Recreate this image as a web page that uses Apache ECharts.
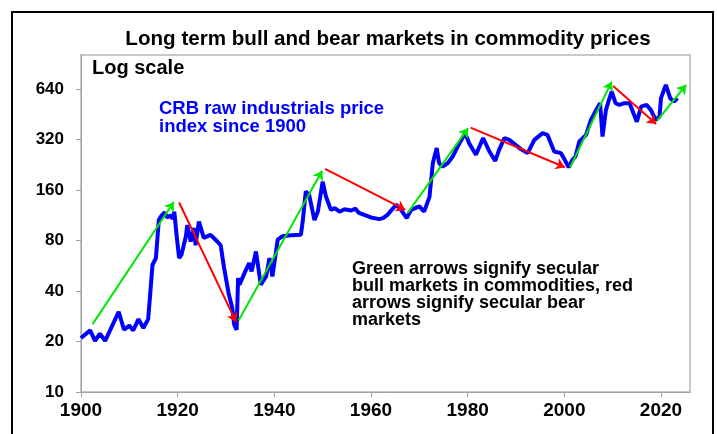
<!DOCTYPE html>
<html>
<head>
<meta charset="utf-8">
<script src="https://cdn.jsdelivr.net/npm/echarts@6/dist/echarts.min.js"></script>
<style>
  html, body { margin: 0; padding: 0; background: #fff; }
  #chart { width: 717px; height: 434px; }
</style>
</head>
<body>
<div id="chart"></div>
<script>
// CRB raw industrials index (year, index level)
const crbYears = [
  1900, 1901.9, 1902.9, 1903.9, 1905.0, 1907.8, 1908.9, 1910.0, 1910.8, 1911.9,
  1912.9, 1913.9, 1914.8, 1915.5, 1916.1, 1916.6, 1917.3, 1917.8, 1918.5, 1919.0,
  1919.3, 1919.8, 1920.3, 1920.8, 1921.7, 1922.0, 1922.7, 1923.4, 1923.7, 1924.4,
  1925.4, 1926.8, 1928.2, 1928.9, 1929.6, 1930.6, 1931.3, 1931.7, 1932.2, 1932.5,
  1932.8, 1933.8, 1934.8, 1935.3, 1936.2, 1937.2, 1938.3, 1939.0, 1939.6, 1940.7,
  1941.7, 1943.5, 1945.5, 1945.9, 1946.5, 1947.2, 1947.7, 1948.3, 1949.0, 1950.0,
  1950.7, 1951.7, 1952.5, 1953.5, 1954.5, 1955.9, 1956.8, 1957.5, 1958.6, 1960.0,
  1961.7, 1962.5, 1963.4, 1965.2, 1966.2, 1967.4,
  1968.3, 1970.0, 1971.0, 1972.1, 1972.8, 1973.6, 1974.1, 1974.8, 1975.9, 1976.9,
  1978.3, 1979.5, 1980.3, 1981.7, 1983.2, 1984.5, 1985.7, 1986.5, 1987.6, 1988.6,
  1989.9, 1991.0, 1992.4, 1993.8, 1995.5, 1996.5, 1997.9, 1999.3, 1999.9, 2000.9,
  2001.7, 2002.3, 2003.1, 2004.5, 2005.5, 2006.6, 2007.4, 2007.9, 2008.6, 2009.3,
  2009.8, 2010.6, 2011.4, 2012.4, 2013.5, 2014.3, 2015.0, 2015.9, 2017.0, 2017.9,
  2018.9, 2019.7, 2020.0, 2021.0, 2021.9, 2022.7, 2023.4
];
const crbValues = [
  21.0, 23.3, 20.2, 22.3, 20.2, 30.1, 23.5, 24.9, 23.3, 27.2,
  24.1, 27.2, 57.4, 62.9, 106, 112, 118, 110, 113, 108,
  119, 85, 63, 66, 85, 99, 79, 95, 75, 104,
  83, 86.6, 79, 75, 55, 38, 31.7, 25.2, 23.5, 47.8,
  43.6, 51, 58.7, 52.4, 68.9, 43.6, 48.9, 62.9, 48.9, 81,
  85, 86, 86.6, 106, 157, 150, 128, 106, 119, 180,
  146, 122, 125, 119, 123, 121, 124, 117, 114, 110,
  107.5, 109, 114, 131, 122, 109,
  122, 128, 119, 146, 232, 285, 232, 221, 232, 254,
  305, 350, 305, 260, 327, 272, 239, 278, 327, 319,
  298, 281, 266, 319, 350, 342, 272, 266, 248, 219,
  243, 254, 312, 342, 420, 482, 528, 334, 480, 560,
  619, 528, 516, 528, 528, 460, 410, 504, 516, 482,
  420, 440, 566, 679, 566, 540, 566
];

// arrows: [startYear, startValue, endYear, endValue]
const bullArrows = [
  [1902.4, 25.4, 1919.2, 136],
  [1932.6, 26.7, 1949.9, 209],
  [1967.6, 117, 1980.1, 375],
  [2001.2, 219, 2009.8, 710],
  [2019.2, 416, 2025.2, 679]
];
const bearArrows = [
  [1920.3, 135, 1932.1, 26.1],
  [1950.5, 214, 1967.1, 122],
  [1980.6, 378, 2000.1, 219],
  [2010.1, 670, 2019.0, 397]
];

const xTicks = [1900, 1920, 1940, 1960, 1980, 2000, 2020];
const yTicks = [10, 20, 40, 80, 160, 320, 640];

const fontFamily = '"Liberation Sans", Arial, sans-serif';
const chart = echarts.init(document.getElementById('chart'), null, { renderer: 'canvas' });

function arrowData(list) {
  return list.map(a => ({ coords: [[a[0], a[1]], [a[2], a[3]]] }));
}

chart.setOption({
  animation: false,
  backgroundColor: '#fff',
  grid: {
    left: 81,
    right: 27,
    top: 55,
    bottom: 42,
    show: true,
    borderColor: '#c8c8c8',
    borderWidth: 2
  },
  graphic: [
    {
      type: 'rect',
      z: -1,
      shape: { x: 12, y: 12, width: 701, height: 440 },
      style: { fill: 'none', stroke: '#000', lineWidth: 2 }
    },
    {
      type: 'text',
      x: 388,
      y: 39,
      style: {
        text: 'Long term bull and bear markets in commodity prices',
        font: 'bold 20.6px ' + fontFamily,
        fill: '#000',
        textAlign: 'center',
        textVerticalAlign: 'middle'
      }
    },
    {
      type: 'text',
      x: 92,
      y: 58,
      style: {
        text: 'Log scale',
        font: 'bold 20px ' + fontFamily,
        fill: '#000'
      }
    },
    {
      type: 'text',
      x: 159,
      y: 100,
      style: {
        text: 'CRB raw industrials price\nindex since 1900',
        font: 'bold 18.5px ' + fontFamily,
        lineHeight: 18,
        fill: '#0000ff'
      }
    },
    {
      type: 'text',
      x: 352,
      y: 261,
      style: {
        text: 'Green arrows signify secular\nbull markets in commodities, red\narrows signify secular bear\nmarkets',
        font: 'bold 18px ' + fontFamily,
        lineHeight: 17,
        fill: '#000'
      }
    }
  ],
  xAxis: {
    type: 'value',
    min: 1900,
    max: 2026,
    splitLine: { show: false },
    axisLine: { lineStyle: { color: '#a0a0a0', width: 1 } },
    axisTick: { show: true, length: 5, customValues: xTicks, lineStyle: { color: '#a0a0a0' } },
    axisLabel: {
      customValues: xTicks,
      margin: 9,
      color: '#000',
      fontSize: 19,
      fontWeight: 'bold',
      fontFamily: fontFamily,
      formatter: v => String(v)
    }
  },
  yAxis: {
    type: 'log',
    logBase: 2,
    min: 10,
    max: 1024,
    splitLine: { show: false },
    axisLine: { show: true, lineStyle: { color: '#a0a0a0', width: 1 } },
    axisTick: { show: true, length: 5, customValues: yTicks, lineStyle: { color: '#a0a0a0' } },
    axisLabel: {
      customValues: yTicks,
      margin: 17,
      color: '#000',
      fontSize: 17,
      fontWeight: 'bold',
      fontFamily: fontFamily,
      formatter: v => String(Math.round(v))
    }
  },
  series: [
    {
      name: 'CRB raw industrials',
      type: 'line',
      data: crbYears.map((y, i) => [y, crbValues[i]]),
      showSymbol: false,
      symbol: 'none',
      lineStyle: { color: '#0000ff', width: 4 },
      z: 2
    },
    {
      name: 'bull',
      type: 'lines',
      coordinateSystem: 'cartesian2d',
      data: arrowData(bullArrows),
      symbol: ['none', 'arrow'],
      symbolSize: [7, 9],
      lineStyle: { color: '#00e600', width: 2, opacity: 1 },
      z: 3
    },
    {
      name: 'bear',
      type: 'lines',
      coordinateSystem: 'cartesian2d',
      data: arrowData(bearArrows),
      symbol: ['none', 'arrow'],
      symbolSize: [7, 9],
      lineStyle: { color: '#ff0000', width: 2, opacity: 1 },
      z: 3
    }
  ]
});
</script>
</body>
</html>
